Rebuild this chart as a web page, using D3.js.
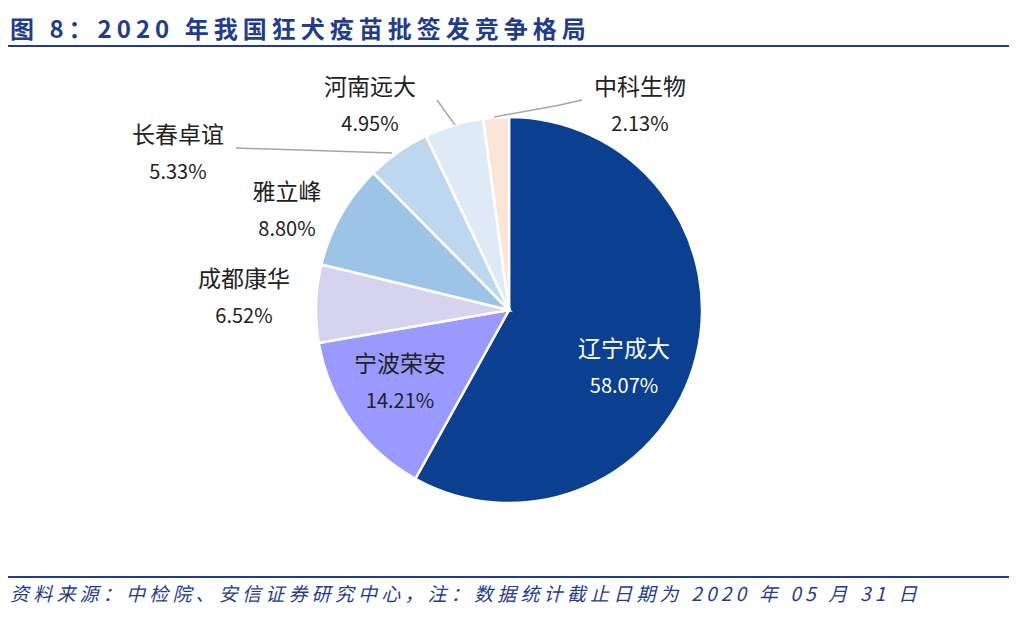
<!DOCTYPE html>
<html><head><meta charset="utf-8">
<script src="https://cdn.jsdelivr.net/npm/d3@7"></script>
<style>body{margin:0;background:#fff;font-family:"Noto Sans CJK SC","Noto Sans",sans-serif}</style>
</head><body><svg id="c" width="1017" height="618"></svg>
<script>
const categories=["辽宁成大","宁波荣安","成都康华","雅立峰","长春卓谊","河南远大","中科生物"];
const values=[58.07,14.21,6.52,8.80,5.33,4.95,2.13];
const colors=["#0B3F8F","#9999FF","#D5D3EE","#9DC3E6","#BDD7EE","#DEEBF7","#FBE5D6"];
const labelPos=[[624,357,null],[400,372,null],[244,287,null],[287,200,null],[178,143,[[236,148],[392,153]]],[370,95,[[437,100],[455,125]]],[640,95,[[582,100],[560,105],[494,117]]]];
const svg=d3.select("#c");
const cx=509,cy=310,r=193;
svg.append("text").attr("x",10).attr("y",38).attr("font-size",24).attr("font-weight","bold").attr("letter-spacing",5).attr("fill","#1F3D8C").text("图 8：2020 年我国狂犬疫苗批签发竞争格局");
svg.append("line").attr("x1",8).attr("x2",1009).attr("y1",46).attr("y2",46).attr("stroke","#1F3D8C").attr("stroke-width",2);
svg.append("line").attr("x1",8).attr("x2",1009).attr("y1",577).attr("y2",577).attr("stroke","#1F3D8C").attr("stroke-width",2);
svg.append("text").attr("x",10).attr("y",601).attr("font-size",19).attr("font-style","italic").attr("letter-spacing",4.2).attr("fill","#1F3D8C").text("资料来源：中检院、安信证券研究中心，注：数据统计截止日期为 2020 年 05 月 31 日");
const pie=d3.pie().sort(null).value(d=>d)(values);
const arc=d3.arc().innerRadius(0).outerRadius(r);
const g=svg.append("g").attr("transform",`translate(${cx},${cy})`);
g.selectAll("path").data(pie).join("path").attr("d",arc).attr("fill",(d,i)=>colors[i]).attr("stroke","#fff").attr("stroke-width",2.5);
labelPos.forEach((p,i)=>{
  const col=i===0?"#fff":"#222";
  if(p[2]) svg.append("path").attr("d",d3.line()(p[2])).attr("fill","none").attr("stroke","#A6A6A6").attr("stroke-width",1.5);
  svg.append("text").attr("x",p[0]).attr("y",p[1]).attr("text-anchor","middle").attr("font-size",23).attr("fill",col).text(categories[i]);
  svg.append("text").attr("x",p[0]).attr("y",p[1]+36).attr("text-anchor","middle").attr("font-size",20).attr("fill",col).text(values[i].toFixed(2)+"%");
});
</script></body></html>
